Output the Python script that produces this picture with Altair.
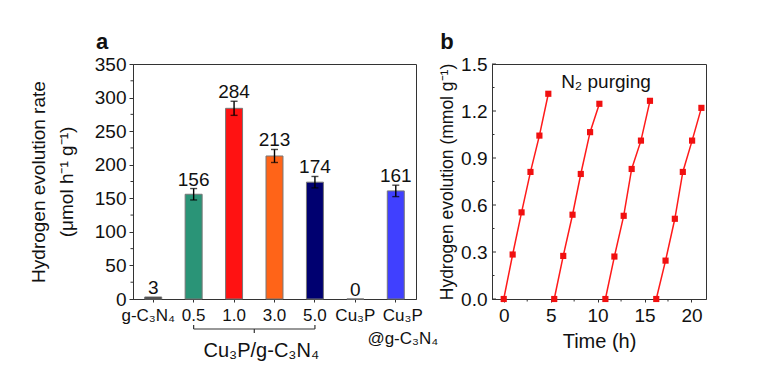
import altair as alt
import pandas as pd

FONT = "Liberation Sans"

# ---------------- Panel a data ----------------
categories = ["g-C₃N₄", "0.5", "1.0", "3.0", "5.0", "Cu₃P", "Cu₃P @g-C₃N₄"]
rates = [3, 156, 284, 213, 174, 0, 161]
errors = [0, 8.5, 10.5, 9.7, 8.5, 0, 8.5]
bar_colors = ["#333333", "#2a9477", "#ff1212", "#ff6418", "#000070", "#222222", "#4040ff"]
rate_ticks = [0, 50, 100, 150, 200, 250, 300, 350]
rate_minor = [25, 75, 125, 175, 225, 275, 325]
bracket_ends = ["0.5", "5.0"]

# ---------------- Panel b data ----------------
cycle1_t = [0, 0.95, 1.9, 2.85, 3.8, 4.75]
cycle1_h = [0, 0.284, 0.553, 0.811, 1.043, 1.31]
cycle2_t = [5.38, 6.34, 7.33, 8.21, 9.20, 10.19]
cycle2_h = [0, 0.275, 0.538, 0.798, 1.065, 1.246]
cycle3_t = [10.83, 11.79, 12.78, 13.63, 14.62, 15.58]
cycle3_h = [0, 0.271, 0.531, 0.830, 1.011, 1.265]
cycle4_t = [16.25, 17.24, 18.23, 19.08, 20.07, 21.06]
cycle4_h = [0, 0.245, 0.512, 0.811, 1.011, 1.220]
time_ticks = [0, 5, 10, 15, 20]
time_minor = [2.5, 7.5, 12.5, 17.5]
h2_ticks = [0, 0.3, 0.6, 0.9, 1.2, 1.5]
h2_minor = [0.15, 0.45, 0.75, 1.05, 1.35]

# ---------------- Panel a ----------------
W_A, H_A = 283, 235
df_a = pd.DataFrame({"cat": categories, "rate": rates, "err": errors, "color": bar_colors})
df_a["lo"] = df_a["rate"] - df_a["err"]
df_a["hi"] = df_a["rate"] + df_a["err"]
df_a["label"] = df_a["rate"].astype(str)
df_err = df_a[df_a["err"] > 0]

x_scale_a = alt.Scale(domain=categories, paddingInner=0.58, paddingOuter=0.29)
x_label_offset = {
    "condition": [
        {"test": "indexof(datum.value, '@') >= 0", "value": 7},
        {"test": "datum.value === '" + categories[0] + "'", "value": -5},
    ],
    "value": 0,
}
x_axis_a = alt.Axis(title=None, labelExpr="split(datum.label, ' ')", labelAngle=0,
                    labelFontSize=17, labelLineHeight=23, tickSize=3, labelPadding=5,
                    labelBaseline="top", labelOffset=x_label_offset)
y_scale_a = alt.Scale(domain=[0, 350], nice=False)
y_axis_a = alt.Axis(values=rate_ticks, title=["Hydrogen evolution rate", "(μmol h⁻¹ g⁻¹)"],
                    titleFontSize=19, titleLineHeight=28, titleFontWeight="normal",
                    labelFontSize=19, tickSize=4, labelPadding=3, grid=False, titlePadding=18)


def xa(field="cat"):
    return alt.X(f"{field}:N", sort=categories, scale=x_scale_a, axis=x_axis_a)


def ya(field):
    return alt.Y(f"{field}:Q", scale=y_scale_a, axis=y_axis_a)


bars = alt.Chart(df_a).mark_bar(stroke="#777777", strokeWidth=1).encode(
    x=xa(), y=ya("rate"), color=alt.Color("color:N", scale=None))
err_rule = alt.Chart(df_err).mark_rule(color="black", strokeWidth=1.4).encode(
    x=xa(), y=ya("lo"), y2="hi:Q")
caps = alt.Chart(df_err).transform_fold(["lo", "hi"], as_=["which", "v"]).mark_tick(
    color="black", thickness=1.4, size=7).encode(x=xa(), y=ya("v"))
vlabels = alt.Chart(df_a).mark_text(fontSize=19, baseline="alphabetic", dy=-3, color="#111").encode(
    x=xa(), y=ya("hi"), text="label:N")
minor_a = alt.Chart(pd.DataFrame({"v": rate_minor})).mark_rule(color="#333").encode(
    y=ya("v"), x=alt.value(-2.5), x2=alt.value(0))

br_df = pd.DataFrame({"start": [bracket_ends[0]], "end": [bracket_ends[1]]})
bracket = alt.Chart(br_df).mark_rule(color="#333", strokeWidth=1.2).encode(
    x=xa("start"), x2="end:N", y=alt.value(265))
br_end_ticks = alt.Chart(pd.DataFrame({"e": bracket_ends})).mark_rule(color="#333", strokeWidth=1.2).encode(
    x=xa("e"), y=alt.value(261), y2=alt.value(265))
br_mid = alt.Chart(pd.DataFrame({"m": [0]})).mark_rule(color="#333", strokeWidth=1.2).encode(
    x=alt.value(W_A * 3 / 7), y=alt.value(265), y2=alt.value(269))
group_label = alt.Chart(pd.DataFrame({"t": ["Cu₃P/g-C₃N₄"]})).mark_text(
    fontSize=20, baseline="alphabetic", color="#111").encode(
    x=alt.value(W_A * 3 / 7 + 7), y=alt.value(293), text="t:N")
letter_a = alt.Chart(pd.DataFrame({"t": ["a"]})).mark_text(
    fontSize=22, fontWeight="bold", baseline="alphabetic", color="#111").encode(
    x=alt.value(-31), y=alt.value(-15), text="t:N")

panel_a = alt.layer(bars, err_rule, caps, vlabels, minor_a, bracket, br_end_ticks,
                    br_mid, group_label, letter_a).properties(width=W_A, height=H_A)

# ---------------- Panel b ----------------
W_B, H_B = 214, 235
rows = []
for c, (ts, hs) in enumerate([(cycle1_t, cycle1_h), (cycle2_t, cycle2_h),
                              (cycle3_t, cycle3_h), (cycle4_t, cycle4_h)], start=1):
    for t, h in zip(ts, hs):
        rows.append({"t": t, "h": h, "cycle": c})
df_b = pd.DataFrame(rows)

x_scale_b = alt.Scale(domain=[-1.25, 21.55], nice=False, zero=False)
x_axis_b = alt.Axis(values=time_ticks, title="Time (h)", titleFontSize=20, titleFontWeight="normal",
                    labelFontSize=19, tickSize=3, labelPadding=4, grid=False, titlePadding=6)
y_scale_b = alt.Scale(domain=[0, 1.5], nice=False)
y_axis_b = alt.Axis(values=h2_ticks, format=".1f", title="Hydrogen evolution (mmol g⁻¹)",
                    titleFontSize=17.5, titleFontWeight="normal", labelFontSize=19,
                    ticks=False, labelPadding=5, grid=False, titlePadding=4)


def xb(field):
    return alt.X(f"{field}:Q", scale=x_scale_b, axis=x_axis_b)


def yb(field):
    return alt.Y(f"{field}:Q", scale=y_scale_b, axis=y_axis_b)


lines = alt.Chart(df_b).mark_line(color="#ff1a1a", strokeWidth=1.5).encode(
    x=xb("t"), y=yb("h"), detail="cycle:N")
pts = alt.Chart(df_b).mark_square(color="#f01010", size=38, opacity=1).encode(
    x=xb("t"), y=yb("h"))
ymaj_b = alt.Chart(pd.DataFrame({"v": h2_ticks})).mark_rule(color="#333").encode(
    y=yb("v"), x=alt.value(0), x2=alt.value(4))
ymin_b = alt.Chart(pd.DataFrame({"v": h2_minor})).mark_rule(color="#333").encode(
    y=yb("v"), x=alt.value(0), x2=alt.value(2.5))
xmin_b = alt.Chart(pd.DataFrame({"v": time_minor})).mark_rule(color="#333").encode(
    x=xb("v"), y=alt.value(H_B), y2=alt.value(H_B + 2.5))
n2 = alt.Chart(pd.DataFrame({"t": ["N₂ purging"]})).mark_text(
    fontSize=19, baseline="middle", color="#111").encode(
    x=alt.value(W_B / 2 + 7), y=alt.value(18), text="t:N")
letter_b = alt.Chart(pd.DataFrame({"t": ["b"]})).mark_text(
    fontSize=22, fontWeight="bold", baseline="alphabetic", color="#111").encode(
    x=alt.value(-45), y=alt.value(-15), text="t:N")

panel_b = alt.layer(lines, pts, ymaj_b, ymin_b, xmin_b, n2, letter_b).properties(width=W_B, height=H_B)

chart = alt.hconcat(panel_a, panel_b, spacing=76, bounds="flush").properties(
    padding={"left": 20, "top": 22, "right": 5, "bottom": 5}
).configure_view(stroke="#333", strokeWidth=1).configure_axis(
    domainColor="#333", tickColor="#333", labelColor="#111", titleColor="#111",
    labelFont=FONT, titleFont=FONT
).configure_text(font=FONT)

chart.save("out.html", embed_options={"renderer": "svg", "actions": False})
